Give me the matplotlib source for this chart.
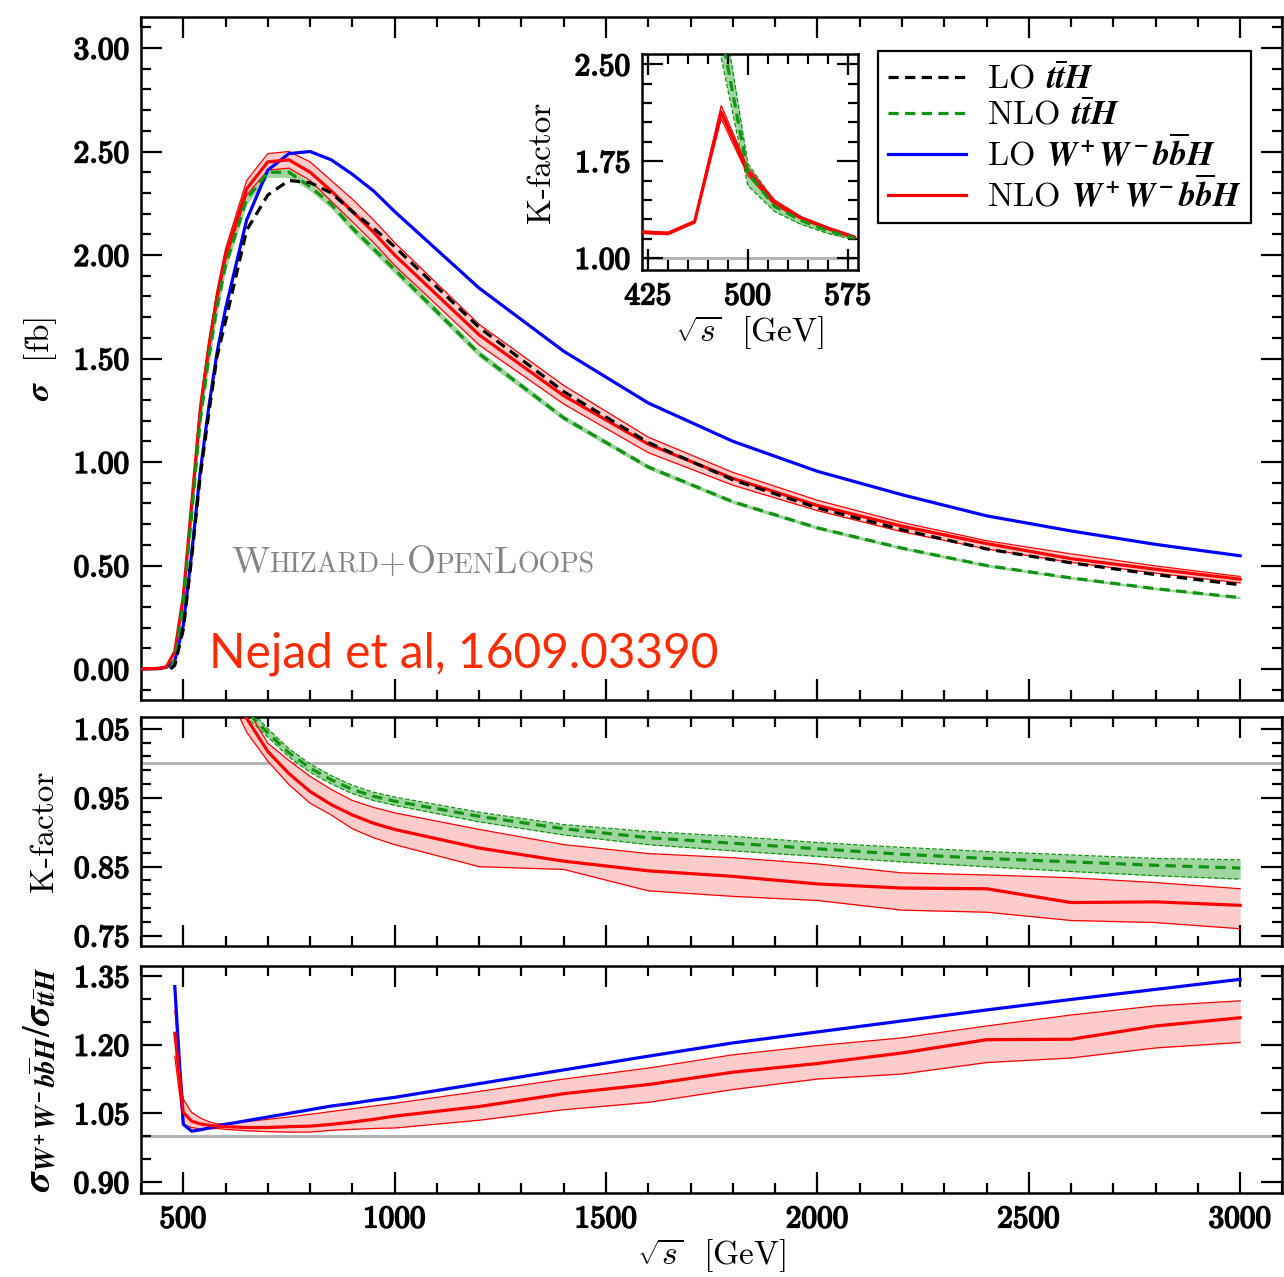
import matplotlib
matplotlib.use("Agg")
import matplotlib.pyplot as plt
import matplotlib.patheffects as pe
from matplotlib.lines import Line2D
from matplotlib.ticker import FixedLocator, FuncFormatter
from matplotlib.offsetbox import TextArea, HPacker, AnnotationBbox

plt.rcParams["mathtext.fontset"] = "cm"
plt.rcParams["font.family"] = "cmr10"
plt.rcParams["axes.formatter.use_mathtext"] = True

# ---- main panel: cross sections [fb] ----
X_WW = [400, 440, 460, 480, 500, 520, 540, 560, 580, 600, 650, 700, 750, 800, 850, 900, 950,
        1000, 1200, 1400, 1600, 1800, 2000, 2200, 2400, 2600, 2800, 3000]
LO_WW = [0.0, 0.002, 0.008, 0.04, 0.21, 0.56, 0.95, 1.26, 1.53, 1.74, 2.17, 2.41, 2.49, 2.50, 2.46,
         2.39, 2.31, 2.21, 1.84, 1.535, 1.285, 1.10, 0.955, 0.842, 0.740, 0.667, 0.602, 0.547]
NLO_WW = [0.0, 0.003, 0.01, 0.085, 0.35, 0.80, 1.25, 1.55, 1.80, 2.00, 2.32, 2.45, 2.46, 2.40, 2.31,
          2.21, 2.11, 2.00, 1.614, 1.32, 1.086, 0.921, 0.790, 0.690, 0.606, 0.533, 0.482, 0.434]
NLO_WW_HI = [0.0, 0.003, 0.011, 0.09, 0.36, 0.82, 1.28, 1.58, 1.83, 2.03, 2.36, 2.49, 2.50, 2.45, 2.36,
             2.27, 2.17, 2.06, 1.665, 1.37, 1.12, 0.95, 0.815, 0.708, 0.620, 0.556, 0.498, 0.447]
NLO_WW_LO = [0.0, 0.003, 0.009, 0.08, 0.34, 0.78, 1.22, 1.52, 1.77, 1.97, 2.29, 2.41, 2.42, 2.36, 2.26,
             2.16, 2.06, 1.95, 1.565, 1.28, 1.045, 0.888, 0.765, 0.663, 0.580, 0.515, 0.463, 0.416]

X_TT = [470, 480, 500, 520, 540, 560, 580, 600, 650, 700, 750, 800, 850, 900, 950,
        1000, 1200, 1400, 1600, 1800, 2000, 2200, 2400, 2600, 2800, 3000]
LO_TT = [0.0, 0.018, 0.19, 0.54, 0.93, 1.23, 1.51, 1.68, 2.12, 2.29, 2.36, 2.35, 2.30, 2.21, 2.13,
         2.04, 1.65, 1.34, 1.094, 0.914, 0.778, 0.673, 0.580, 0.513, 0.456, 0.407]
NLO_TT = [0.0, 0.05, 0.32, 0.75, 1.20, 1.50, 1.75, 1.95, 2.27, 2.40, 2.40, 2.33, 2.245, 2.13, 2.03,
          1.93, 1.523, 1.213, 0.976, 0.808, 0.682, 0.584, 0.500, 0.440, 0.388, 0.345]
NLO_TT_HI = [0.0, 0.056, 0.345, 0.785, 1.235, 1.535, 1.785, 1.975, 2.295, 2.425, 2.425, 2.35, 2.265, 2.15, 2.05,
             1.95, 1.54, 1.226, 0.987, 0.817, 0.690, 0.591, 0.507, 0.446, 0.394, 0.351]
NLO_TT_LO = [0.0, 0.044, 0.295, 0.715, 1.165, 1.465, 1.715, 1.925, 2.245, 2.375, 2.375, 2.31, 2.225, 2.11, 2.01,
             1.91, 1.506, 1.20, 0.965, 0.799, 0.674, 0.577, 0.493, 0.434, 0.382, 0.339]

# ---- K-factor panel ----
X_K = [600, 650, 700, 750, 800, 850, 900, 950, 1000, 1200, 1400, 1600, 1800, 2000, 2200, 2400, 2600, 2800, 3000]
K_WW = [1.13, 1.065, 1.017, 0.985, 0.959, 0.940, 0.925, 0.913, 0.904, 0.877, 0.858, 0.844, 0.836,
        0.825, 0.819, 0.818, 0.798, 0.799, 0.794]
K_WW_HI = [1.15, 1.08, 1.029, 1.004, 0.981, 0.962, 0.946, 0.936, 0.928, 0.904, 0.882, 0.869, 0.863,
           0.854, 0.841, 0.838, 0.834, 0.827, 0.818]
K_WW_LO = [1.11, 1.045, 1.003, 0.969, 0.942, 0.925, 0.905, 0.892, 0.882, 0.850, 0.846, 0.815, 0.807,
           0.801, 0.787, 0.784, 0.772, 0.769, 0.760]
K_TT = [1.16, 1.075, 1.044, 1.015, 0.993, 0.976, 0.962, 0.952, 0.945, 0.923, 0.905, 0.892, 0.884,
        0.876, 0.868, 0.862, 0.857, 0.852, 0.848]
K_TT_HI = [1.17, 1.083, 1.05, 1.021, 0.999, 0.982, 0.968, 0.958, 0.951, 0.929, 0.911, 0.901, 0.894,
           0.885, 0.878, 0.872, 0.867, 0.862, 0.860]
K_TT_LO = [1.15, 1.067, 1.038, 1.009, 0.987, 0.970, 0.956, 0.946, 0.939, 0.915, 0.896, 0.882, 0.873,
           0.865, 0.857, 0.850, 0.843, 0.837, 0.832]

# ---- ratio panel ----
X_R = [480, 500, 520, 540, 560, 580, 600, 650, 700, 750, 800, 850, 900, 950, 1000,
       1200, 1400, 1600, 1800, 2000, 2200, 2400, 2600, 2800, 3000]
R_LO = [1.327, 1.026, 1.011, 1.014, 1.018, 1.022, 1.026, 1.034, 1.042, 1.050, 1.058, 1.066, 1.072,
        1.079, 1.085, 1.115, 1.145, 1.175, 1.204, 1.228, 1.252, 1.276, 1.299, 1.321, 1.343]
R_NLO = [1.225, 1.052, 1.033, 1.027, 1.024, 1.022, 1.021, 1.019, 1.019, 1.021, 1.022, 1.026, 1.031,
         1.037, 1.044, 1.065, 1.093, 1.113, 1.140, 1.159, 1.182, 1.211, 1.212, 1.241, 1.259]
R_NLO_HI = [1.275, 1.081, 1.052, 1.040, 1.032, 1.027, 1.028, 1.032, 1.037, 1.042, 1.048, 1.054, 1.060,
            1.066, 1.072, 1.098, 1.125, 1.149, 1.178, 1.198, 1.215, 1.241, 1.265, 1.285, 1.296]
R_NLO_LO = [1.175, 1.026, 1.019, 1.016, 1.016, 1.017, 1.015, 1.012, 1.010, 1.009, 1.009, 1.013, 1.015,
            1.017, 1.018, 1.035, 1.058, 1.074, 1.102, 1.125, 1.136, 1.161, 1.171, 1.193, 1.205]

# ---- inset: K-factor near threshold ----
X_IN_WW = [420, 440, 460, 480, 500, 520, 540, 560, 580]
KIN_WW = [1.20, 1.19, 1.28, 2.13, 1.67, 1.43, 1.31, 1.23, 1.16]
KIN_WW_HI = [1.21, 1.20, 1.29, 2.18, 1.70, 1.45, 1.32, 1.24, 1.17]
KIN_WW_LO = [1.19, 1.18, 1.27, 2.08, 1.64, 1.41, 1.30, 1.22, 1.15]
X_IN_TT = [480, 500, 520, 540, 560, 580]
KIN_TT = [2.75, 1.66, 1.40, 1.29, 1.21, 1.155]
KIN_TT_HI = [3.00, 1.73, 1.44, 1.32, 1.23, 1.17]
KIN_TT_LO = [2.55, 1.56, 1.36, 1.26, 1.19, 1.14]

BLUE = "#0000ff"
RED = "#ff0000"
GREEN = "#119411"
GREEN_FILL = "#9fd69f"
RED_FILL = "#ffcccc"
GREY = "#b4b4b4"
DASH = (3.2, 2.0)
LW = 2.3
BOLD = [pe.withStroke(linewidth=1.2, foreground="black")]


def steps(start, stop, step):
    n = int(round((stop - start) / step))
    return [start + i * step for i in range(n + 1)]


def bold_fmt(fmt):
    return FuncFormatter(lambda v, pos: r"$\mathbf{" + (fmt % v) + "}$")


def style(ax, xmaj, xmin, ymaj, ymin, yfmt, xfmt=None, big=15, small=7):
    ax.xaxis.set_major_locator(FixedLocator(xmaj))
    ax.xaxis.set_minor_locator(FixedLocator(xmin))
    ax.yaxis.set_major_locator(FixedLocator(ymaj))
    ax.yaxis.set_minor_locator(FixedLocator(ymin))
    ax.tick_params(which="both", direction="in", top=True, right=True, width=1.6, labelsize=22.5)
    ax.tick_params(which="major", length=big)
    ax.tick_params(which="minor", length=small)
    ax.tick_params(axis="y", pad=8)
    ax.tick_params(axis="x", pad=9)
    ax.yaxis.set_major_formatter(bold_fmt(yfmt))
    if xfmt is None:
        ax.tick_params(labelbottom=False)
    else:
        ax.xaxis.set_major_formatter(bold_fmt(xfmt))
    for s in ax.spines.values():
        s.set_linewidth(1.8)


def embolden(ax):
    for lbl in ax.get_xticklabels() + ax.get_yticklabels():
        lbl.set_path_effects(BOLD)


def band(ax, x, lo, hi, fill, edge, ls):
    ax.fill_between(x, lo, hi, color=fill, lw=0, zorder=1)
    ax.plot(x, lo, color=edge, lw=0.9, ls=ls, zorder=2)
    ax.plot(x, hi, color=edge, lw=0.9, ls=ls, zorder=2)


X_MAJ = steps(500, 3000, 500)
X_MIN = steps(400, 3100, 100)

fig = plt.figure(figsize=(12.84, 12.77), dpi=100)
ax_main = fig.add_axes([0.1098, 0.4518, 0.889, 0.5349])
ax_k = fig.add_axes([0.1098, 0.2592, 0.889, 0.1793])
ax_r = fig.add_axes([0.1098, 0.0658, 0.889, 0.1777])
ax_in = fig.add_axes([0.5, 0.7886, 0.168, 0.1691])

# main panel
ax_main.fill_between(X_TT, NLO_TT_LO, NLO_TT_HI, color=GREEN_FILL, lw=0, zorder=1)
band(ax_main, X_WW, NLO_WW_LO, NLO_WW_HI, RED_FILL, RED, "-")
ax_main.plot(X_WW, LO_WW, color=BLUE, lw=LW, zorder=3)
ax_main.plot(X_WW, NLO_WW, color=RED, lw=LW, zorder=4)
ax_main.plot(X_TT, NLO_TT, color=GREEN, lw=LW, ls="--", dashes=DASH, zorder=5)
ax_main.plot(X_TT, LO_TT, color="black", lw=LW, ls="--", dashes=DASH, zorder=6)
ax_main.set_xlim(400, 3100)
ax_main.set_ylim(-0.15, 3.15)
style(ax_main, X_MAJ, X_MIN, steps(0, 3.0, 0.5), steps(-0.1, 3.1, 0.1), "%.2f")
ax_main.set_ylabel(r"$\mathbfit{\sigma}$  [fb]", fontsize=24, math_fontfamily="stix")
ax_main.yaxis.set_label_coords(-0.072, 0.5)

ax_main.text(561, 0.005, "Nejad et al, 1609.03390", family="Lato", fontsize=34.5,
             color="#ff2a00", va="baseline", zorder=7)

parts = [("W", 27), ("HIZARD", 20), ("+", 25), ("O", 27), ("PEN", 20), ("L", 27), ("OOPS", 20)]
areas = [TextArea(s, textprops=dict(family="cmr10", fontsize=f, color="#858585")) for s, f in parts]
pack = HPacker(children=areas, align="baseline", pad=0, sep=0)
ab = AnnotationBbox(pack, (613, 0.43), xycoords="data", box_alignment=(0, 0), frameon=False, pad=0)
ax_main.add_artist(ab)

handles = [
    Line2D([], [], color="black", lw=LW, ls="--", dashes=DASH),
    Line2D([], [], color=GREEN, lw=LW, ls="--", dashes=DASH),
    Line2D([], [], color=BLUE, lw=LW),
    Line2D([], [], color=RED, lw=LW),
]
TTH = r"\mathbfit{t}\overline{\mathbfit{t}}\mathbfit{H}"
WWBBH = r"\mathbfit{W^+W^-b}\overline{\mathbfit{b}}\mathbfit{H}"
labels = ["LO $" + TTH + "$", "NLO $" + TTH + "$", "LO $" + WWBBH + "$", "NLO $" + WWBBH + "$"]
leg = ax_main.legend(handles, labels, loc="upper right", bbox_to_anchor=(0.9743, 0.960),
                     bbox_transform=fig.transFigure, fontsize=24.5, frameon=True, fancybox=False,
                     edgecolor="black", framealpha=1, handlelength=2.3, labelspacing=0.08,
                     borderpad=0.3, handletextpad=0.6, borderaxespad=0)
leg.get_frame().set_linewidth(1.6)
for t in leg.get_texts():
    t.set_math_fontfamily("stix")

# K-factor panel
ax_k.axhline(1.0, color=GREY, lw=2.2, zorder=0)
band(ax_k, X_K, K_TT_LO, K_TT_HI, GREEN_FILL, GREEN, "--")
band(ax_k, X_K, K_WW_LO, K_WW_HI, RED_FILL, RED, "-")
ax_k.plot(X_K, K_TT, color=GREEN, lw=LW, ls="--", dashes=DASH, zorder=5)
ax_k.plot(X_K, K_WW, color=RED, lw=LW, zorder=4)
ax_k.set_xlim(400, 3100)
ax_k.set_ylim(0.735, 1.067)
style(ax_k, X_MAJ, X_MIN, steps(0.75, 1.05, 0.1), steps(0.75, 1.07, 0.02), "%.2f")
ax_k.set_ylabel("K-factor", fontsize=24)
ax_k.yaxis.set_label_coords(-0.072, 0.5)

# ratio panel
ax_r.axhline(1.0, color=GREY, lw=2.2, zorder=0)
band(ax_r, X_R, R_NLO_LO, R_NLO_HI, RED_FILL, RED, "-")
ax_r.plot(X_R, R_LO, color=BLUE, lw=LW, zorder=3)
ax_r.plot(X_R, R_NLO, color=RED, lw=LW, zorder=4)
ax_r.set_xlim(400, 3100)
ax_r.set_ylim(0.876, 1.372)
style(ax_r, X_MAJ, X_MIN, steps(0.90, 1.35, 0.15), steps(0.90, 1.35, 0.05), "%.2f", xfmt="%d")
ax_r.set_ylabel(r"$\mathbfit{\sigma}_{" + WWBBH + r"}/\mathbfit{\sigma}_{" + TTH + "}$",
                fontsize=28, math_fontfamily="stix")
ax_r.yaxis.set_label_coords(-0.072, 0.5)
ax_r.set_xlabel(r"$\sqrt{s}$  [GeV]", fontsize=24, labelpad=2)

# inset
ax_in.axhline(1.0, color=GREY, lw=2.2, zorder=0)
band(ax_in, X_IN_TT, KIN_TT_LO, KIN_TT_HI, GREEN_FILL, GREEN, "--")
band(ax_in, X_IN_WW, KIN_WW_LO, KIN_WW_HI, RED_FILL, RED, "-")
ax_in.plot(X_IN_TT, KIN_TT, color=GREEN, lw=LW, ls="--", dashes=DASH, zorder=5)
ax_in.plot(X_IN_WW, KIN_WW, color=RED, lw=LW, zorder=4)
ax_in.set_xlim(420.5, 582.5)
ax_in.set_ylim(0.907, 2.58)
style(ax_in, [425, 500, 575], steps(425, 575, 15), [1.00, 1.75, 2.50], steps(1.0, 2.5, 0.15),
      "%.2f", xfmt="%d")
ax_in.set_ylabel("K-factor", fontsize=24)
ax_in.yaxis.set_label_coords(-0.40, 0.5)
ax_in.set_xlabel(r"$\sqrt{s}$  [GeV]", fontsize=24, labelpad=2)

for a in (ax_main, ax_k, ax_r, ax_in):
    embolden(a)

fig.savefig("out.png", dpi=100)
